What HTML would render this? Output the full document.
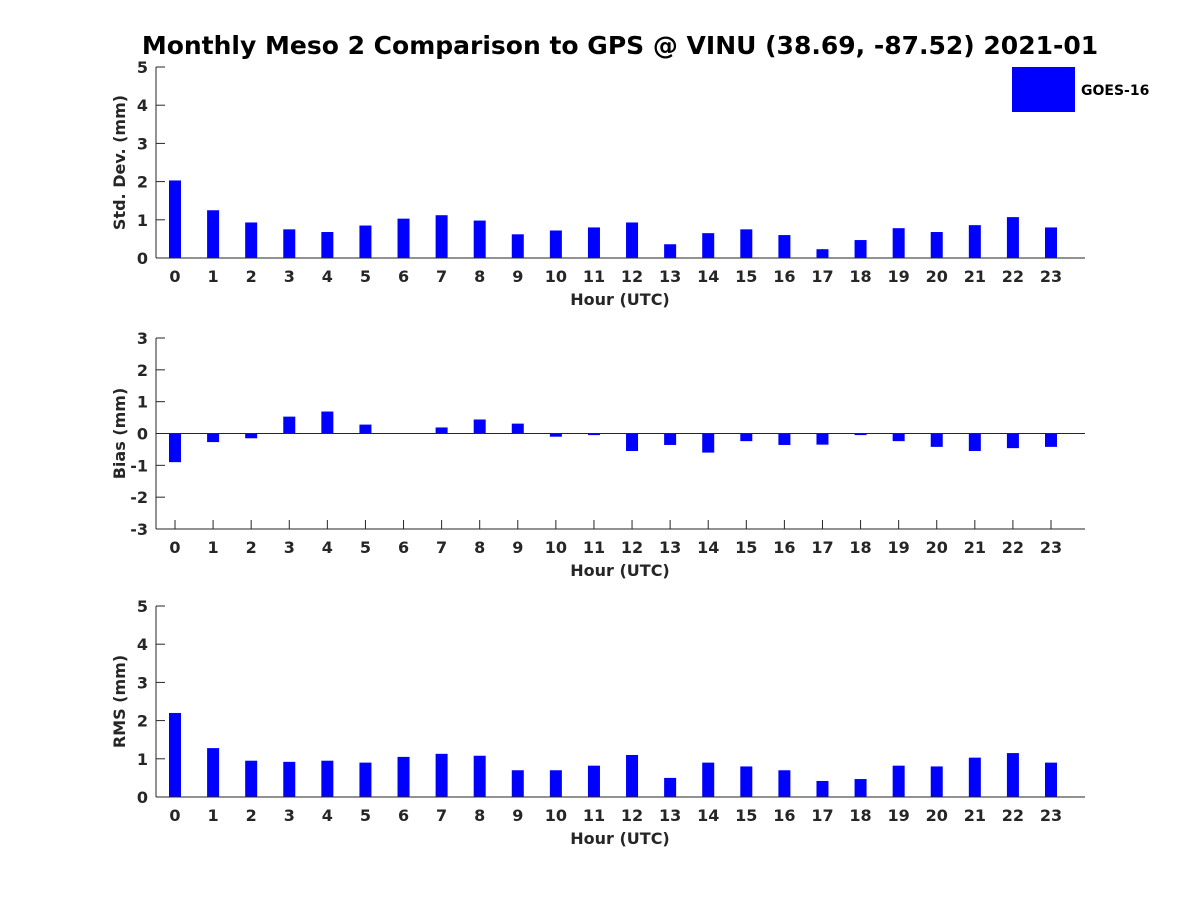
<!DOCTYPE html>
<html><head><meta charset="utf-8"><style>body{margin:0;background:#fff}svg{display:block}text{font-family:"DejaVu Sans","Liberation Sans",sans-serif;font-weight:bold;fill:#262626}</style></head>
<body>
<svg id="chart" width="1200" height="900" xmlns="http://www.w3.org/2000/svg">
<text x="620" y="54" font-size="25" text-anchor="middle" style="fill:#000">Monthly Meso 2 Comparison to GPS @ VINU (38.69, -87.52) 2021-01</text>
<rect x="1012" y="67" width="63" height="45" fill="#0000ff"/>
<text x="1081" y="95" font-size="14" style="fill:#000">GOES-16</text>
</svg>
<script>
const hours=[0,1,2,3,4,5,6,7,8,9,10,11,12,13,14,15,16,17,18,19,20,21,22,23];
const stdValues=[2.03,1.25,0.93,0.75,0.68,0.85,1.03,1.12,0.98,0.62,0.72,0.8,0.93,0.36,0.65,0.75,0.6,0.23,0.47,0.78,0.68,0.86,1.07,0.8];
const biasValues=[-0.9,-0.27,-0.15,0.53,0.69,0.28,0,0.19,0.44,0.31,-0.1,-0.05,-0.55,-0.36,-0.6,-0.24,-0.36,-0.35,-0.05,-0.24,-0.42,-0.55,-0.46,-0.42];
const rmsValues=[2.2,1.28,0.95,0.92,0.95,0.9,1.05,1.13,1.08,0.7,0.7,0.82,1.1,0.5,0.9,0.8,0.7,0.42,0.47,0.82,0.8,1.03,1.15,0.9];
const stdTicks=[0,1,2,3,4,5];
const biasTicks=[-3,-2,-1,0,1,2,3];
const rmsTicks=[0,1,2,3,4,5];
const svg=document.getElementById('chart');
const NS='http://www.w3.org/2000/svg';
function mk(tag,attrs,parent){const e=document.createElementNS(NS,tag);for(const k in attrs)e.setAttribute(k,attrs[k]);(parent||svg).appendChild(e);return e;}
const x0=156,x1=1085;
function xs(h){return 175+h*(1051-175)/23;}
function panel(name,vals,ticks,yTop,yBot,ylabel){
  const g=mk('g',{});
  
  
  const lo=ticks[0],hi=ticks[ticks.length-1];
  const ys=v=>yBot-(v-lo)/(hi-lo)*(yBot-yTop);
  ticks.forEach(t=>{
    mk('line',{x1:x0,x2:x0+9,y1:ys(t),y2:ys(t),stroke:'#262626'},g);
    const tx=mk('text',{x:x0-8,y:ys(t)+6,'font-size':16,'text-anchor':'end'},g);
    tx.textContent=t;
    
    
  });
  hours.forEach(h=>{
    mk('line',{x1:xs(h),x2:xs(h),y1:yBot,y2:yBot-9,stroke:'#262626'},g);
    const tx=mk('text',{x:xs(h),y:yBot+24,'font-size':16,'text-anchor':'middle'},g);
    tx.textContent=h;
    
    
  });
  vals.forEach((v,i)=>{
    const y0=ys(0),y=ys(v);
    const r=mk('rect',{x:xs(hours[i])-6,y:Math.min(y0,y),width:12,height:Math.max(Math.abs(y-y0),0.01),fill:'#0000ff'},g);
    
    
  });
  if(lo<0){const zl=mk('line',{x1:x0,x2:x1,y1:ys(0),y2:ys(0),stroke:'#262626','stroke-width':1},g);
    }
  const ya=mk('line',{x1:x0,x2:x0,y1:yTop,y2:yBot,stroke:'#262626'},g);
  
  const xa=mk('line',{x1:x0,x2:x1,y1:yBot,y2:yBot,stroke:'#262626'},g);
  
  const xl=mk('text',{x:620,y:yBot+47,'font-size':16,'text-anchor':'middle'},g);
  xl.textContent='Hour (UTC)';
  
  
  const yc=(yTop+yBot)/2;
  const yl=mk('text',{x:125,y:yc,'font-size':16,'text-anchor':'middle',transform:'rotate(-90 125 '+yc+')'},g);
  yl.textContent=ylabel;
  
  
}
panel('std-dev',stdValues,stdTicks,67,258,'Std. Dev. (mm)');
panel('bias',biasValues,biasTicks,338,529,'Bias (mm)');
panel('rms',rmsValues,rmsTicks,606,797,'RMS (mm)');
</script>
</body></html>
